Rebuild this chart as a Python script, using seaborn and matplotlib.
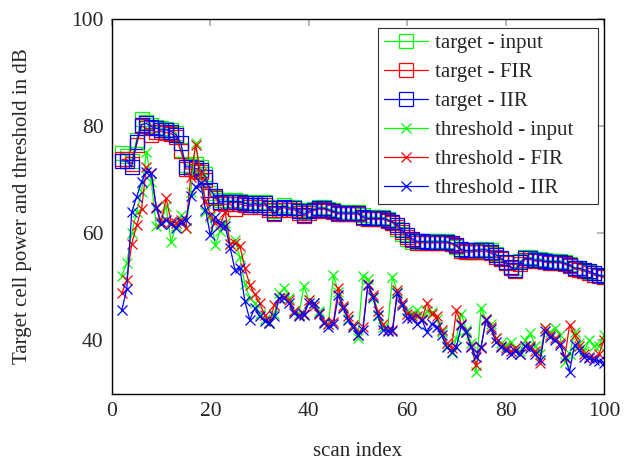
import numpy as np
import pandas as pd
import seaborn as sns
import matplotlib
matplotlib.use("Agg")
import matplotlib.pyplot as plt

# scan index 2..100
scan = list(range(2, 101))

# target cell power (dB)
target_input = [75.0, 74.5, 73.5, 77.5, 81.3, 80.8, 80.2, 79.9, 79.6, 79.5,
                79.2, 78.8, 75.6, 72.8, 72.6, 73.0, 72.3, 71.0, 67.5, 66.8,
                66.3, 66.2, 66.1, 66.2, 66.0, 65.8, 65.6, 65.9, 65.6, 65.8,
                64.9, 64.2, 64.9, 65.2, 64.9, 64.9, 64.4, 63.9, 64.3, 64.6,
                64.9, 64.9, 64.6, 64.3, 64.0, 64.0, 64.0, 64.0, 64.0, 63.4,
                63.0, 63.0, 63.0, 63.0, 62.7, 62.0, 60.8, 59.8, 59.0, 58.3,
                58.3, 58.3, 58.6, 58.6, 58.6, 58.6, 58.6, 58.0, 57.5, 56.8,
                56.6, 56.6, 56.7, 57.1, 57.1, 56.8, 56.2, 55.2, 54.4, 53.5,
                53.6, 54.8, 55.5, 55.5, 55.2, 55.2, 55.0, 54.9, 54.9, 54.9,
                54.6, 54.3, 53.6, 53.4, 53.0, 52.7, 52.3, 52.0, 51.8]
target_fir = [73.8, 73.8, 73.0, 76.5, 80.0, 79.6, 78.4, 79.0, 79.0, 78.8,
              78.6, 78.0, 75.3, 72.0, 72.0, 71.7, 71.5, 70.0, 67.0, 66.5,
              65.6, 65.4, 65.5, 64.5, 65.5, 65.2, 65.0, 65.3, 65.0, 65.3,
              64.4, 63.6, 64.4, 64.8, 64.4, 64.4, 63.8, 63.2, 63.8, 64.2,
              64.5, 64.5, 64.2, 63.9, 63.6, 63.6, 63.6, 63.6, 63.6, 62.9,
              62.6, 62.6, 62.6, 62.6, 62.3, 62.0, 61.2, 60.2, 59.4, 58.7,
              58.2, 58.2, 58.2, 58.2, 58.2, 58.2, 58.2, 58.0, 57.6, 56.7,
              56.5, 56.5, 56.6, 56.6, 56.6, 56.3, 55.6, 55.2, 54.4, 53.6,
              53.0, 54.3, 55.1, 55.1, 54.8, 54.8, 54.6, 54.5, 54.5, 54.5,
              54.2, 53.9, 53.3, 53.2, 52.9, 52.6, 52.2, 52.0, 51.8]
target_iir = [73.5, 73.5, 72.4, 77.0, 80.3, 80.5, 79.9, 79.6, 79.3, 79.3,
              79.0, 78.4, 76.8, 72.4, 72.4, 72.1, 71.8, 70.5, 68.1, 66.9,
              65.9, 65.9, 65.9, 65.9, 65.9, 65.6, 65.3, 65.6, 65.3, 65.6,
              64.7, 63.8, 64.7, 65.0, 64.7, 64.7, 64.1, 63.5, 64.1, 64.4,
              64.7, 64.7, 64.4, 64.1, 63.8, 63.8, 63.8, 63.8, 63.8, 63.1,
              62.8, 62.8, 62.8, 62.8, 62.5, 62.2, 61.6, 60.6, 59.7, 59.0,
              58.5, 58.5, 58.4, 58.4, 58.4, 58.4, 58.4, 58.2, 57.8, 57.0,
              56.8, 56.8, 56.9, 56.9, 56.9, 56.6, 56.0, 55.4, 54.7, 53.8,
              53.2, 54.6, 55.3, 55.3, 55.0, 55.0, 54.8, 54.7, 54.7, 54.7,
              54.4, 54.1, 53.5, 53.5, 53.2, 52.9, 52.5, 52.2, 52.0]

# threshold (dB)
thresh_input = [52.1, 54.4, 60.0, 64.0, 67.8, 75.2, 69.6, 61.3, 62.0, 65.1,
                58.4, 61.3, 63.4, 60.9, 67.7, 76.8, 71.0, 64.0, 63.0, 57.8,
                60.5, 62.0, 58.0, 58.8, 55.5, 50.5, 47.9, 47.0, 45.0, 44.0,
                43.5, 45.0, 48.8, 49.8, 48.0, 45.5, 45.0, 50.1, 47.5, 47.0,
                45.5, 43.5, 43.0, 52.2, 49.0, 46.0, 44.0, 42.5, 40.5, 52.0,
                51.5, 48.0, 44.5, 42.5, 42.0, 51.9, 49.0, 47.0, 45.5, 45.0,
                45.7, 44.0, 45.5, 45.4, 44.0, 41.5, 39.0, 37.6, 40.4, 45.0,
                42.0, 39.5, 34.2, 46.0, 44.0, 43.0, 40.5, 39.5, 39.0, 39.8,
                38.5, 38.0, 40.0, 41.3, 39.0, 37.5, 42.3, 41.5, 42.3, 41.0,
                36.0, 37.5, 41.5, 39.5, 38.0, 40.1, 39.0, 39.0, 41.0]
thresh_fir = [48.8, 51.3, 58.0, 61.5, 64.5, 72.3, 71.2, 65.0, 62.2, 66.5,
              62.2, 62.0, 62.5, 61.0, 70.6, 76.5, 71.2, 66.0, 63.5, 62.0,
              61.6, 64.0, 58.0, 58.2, 57.6, 53.5, 50.4, 48.6, 47.0, 44.8,
              43.3, 46.7, 47.9, 48.2, 47.5, 45.5, 44.8, 45.0, 47.5, 46.5,
              45.0, 43.5, 43.0, 43.5, 49.7, 46.5, 44.5, 42.8, 41.0, 42.5,
              50.5, 48.5, 45.5, 43.0, 42.0, 42.0, 49.5, 47.0, 45.0, 44.5,
              44.5, 44.0, 46.9, 45.0, 44.5, 42.0, 39.5, 38.5, 45.6, 43.0,
              41.5, 39.0, 35.4, 38.5, 44.0, 42.5, 40.5, 39.0, 38.5, 38.0,
              38.5, 37.5, 39.0, 39.0, 38.0, 35.8, 42.3, 41.0, 40.5, 39.5,
              36.7, 42.9, 41.0, 39.0, 37.5, 37.0, 36.8, 37.5, 40.1]
thresh_iir = [45.7, 49.6, 63.9, 66.8, 69.6, 71.5, 71.2, 64.7, 61.7, 62.5,
              61.7, 61.0, 62.2, 62.5, 67.0, 68.7, 69.3, 64.4, 59.6, 63.1,
              61.5, 61.3, 57.3, 53.2, 53.5, 47.3, 43.9, 46.0, 44.5, 43.6,
              43.3, 44.5, 47.9, 47.9, 47.0, 45.1, 44.5, 44.8, 47.0, 47.0,
              45.1, 43.3, 42.6, 43.0, 48.5, 46.0, 43.9, 42.6, 41.1, 42.0,
              50.3, 48.2, 44.8, 42.0, 41.7, 41.8, 48.8, 46.6, 44.2, 44.1,
              43.0, 43.8, 41.6, 43.1, 42.5, 41.0, 38.8, 37.9, 38.8, 42.8,
              41.6, 38.8, 36.9, 38.8, 43.8, 42.2, 39.8, 38.8, 38.3, 37.4,
              38.0, 37.4, 38.9, 38.6, 37.4, 36.4, 41.7, 40.7, 40.1, 39.2,
              37.0, 34.2, 39.2, 38.3, 37.0, 36.7, 36.4, 36.1, 35.8]

sns.set_style("white")
plt.rcParams["font.family"] = ["Liberation Serif", "DejaVu Serif"]

fig = plt.figure(figsize=(6.24, 4.61), dpi=100)
ax = fig.add_axes([0.1795, 0.1453, 0.7885, 0.8135])

series = [
    (target_input, "target - input", "#00ff00", "s"),
    (target_fir, "target - FIR", "#ff0000", "s"),
    (target_iir, "target - IIR", "#0000ff", "s"),
    (thresh_input, "threshold - input", "#00ff00", "x"),
    (thresh_fir, "threshold - FIR", "#ff0000", "x"),
    (thresh_iir, "threshold - IIR", "#0000ff", "x"),
]
for vals, name, col, mk in series:
    ms = 9.5 if mk == "s" else 7
    sns.lineplot(x=scan, y=vals, ax=ax, color=col, marker=mk, markersize=ms,
                 markerfacecolor="none", markeredgecolor=col, markeredgewidth=0.9,
                 linewidth=0.9, legend=False, errorbar=None, sort=False)
    ax.lines[-1].set_label(name)

ax.set_xlim(0, 100)
ax.set_ylim(30, 100)
ax.set_xticks([0, 20, 40, 60, 80, 100])
ax.set_yticks([40, 60, 80, 100])
ax.tick_params(direction="in", top=True, right=True, length=5, width=1.2,
               color="#aaaaaa", labelsize=15.5, pad=6)
for s in ax.spines.values():
    s.set_color("black")
    s.set_linewidth(1.0)
ax.set_xlabel("scan index", fontsize=15, labelpad=15)
ax.set_ylabel("Target cell power and threshold in dB", fontsize=15, labelpad=28)

leg = ax.legend(handles=list(ax.lines), loc="upper right", fontsize=15, frameon=True,
                fancybox=False, edgecolor="black", handlelength=2.1,
                handletextpad=0.35, borderpad=0.28, labelspacing=0.45,
                borderaxespad=0, mode="expand",
                bbox_to_anchor=(0.5407, 0.0, 0.4471, 0.976))
leg.get_frame().set_linewidth(0.8)

fig.savefig("out.png", dpi=100)
